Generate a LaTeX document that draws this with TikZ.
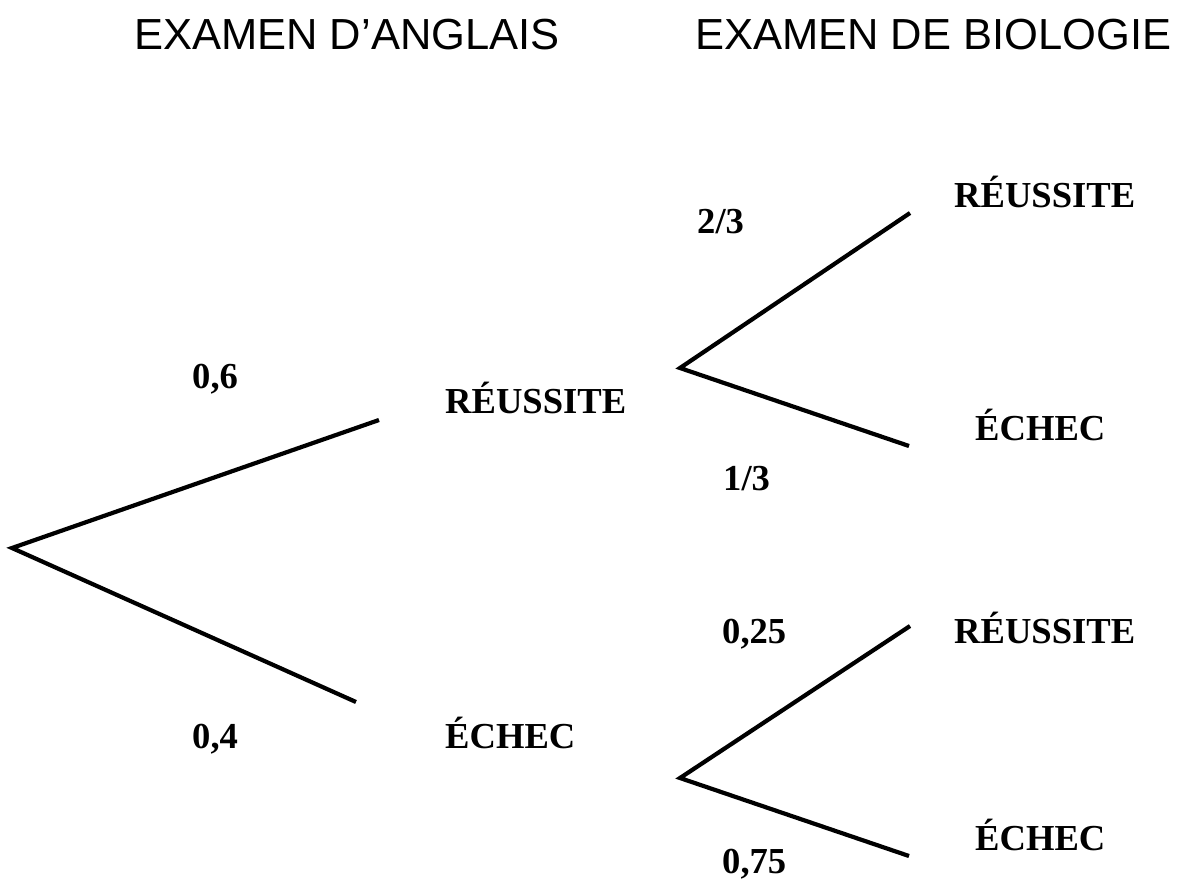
\documentclass[tikz,border=0pt]{standalone}
\usepackage{fontspec}
\setmainfont{Liberation Serif}
\newfontfamily\headfont{Liberation Sans}
\begin{document}
\begin{tikzpicture}[x=1pt,y=-1pt,
  branch/.style={line width=4.2pt,line cap=butt,line join=miter},
  lbl/.style={anchor=base west,inner sep=0pt,font=\fontsize{36.6}{40}\selectfont\bfseries},
  head/.style={anchor=base west,inner sep=0pt,font=\headfont\fontsize{43.5}{48}\selectfont}]
\useasboundingbox (0,0) rectangle (1191,880);
% headers
\node[head] (hA) at (134,50) {EXAMEN D’ANGLAIS};
\node[head] (hB) at (695,50) {EXAMEN DE BIOLOGIE};
% tree points
\coordinate (root) at (12,548);
\coordinate (aR) at (379,420);
\coordinate (aE) at (356,702);
\coordinate (nR) at (680,368);
\coordinate (nE) at (680,778);
\coordinate (rR) at (910,213);
\coordinate (rE) at (909,446);
\coordinate (eR) at (910,626);
\coordinate (eE) at (909,856);
% branches
\draw[branch] (aR) -- (root) -- (aE);
\draw[branch] (rR) -- (nR) -- (rE);
\draw[branch] (eR) -- (nE) -- (eE);
% labels
\node[lbl] (p06) at (192,388) {0,6};
\node[lbl] (p04) at (192,748) {0,4};
\node[lbl] (tR) at (445,413) {RÉUSSITE};
\node[lbl] (tE) at (445,748) {ÉCHEC};
\node[lbl] (p23) at (697,233) {2/3};
\node[lbl] (p13) at (723,490) {1/3};
\node[lbl] (p025) at (722,643) {0,25};
\node[lbl] (p075) at (722,873) {0,75};
\node[lbl] (uR) at (954,207) {RÉUSSITE};
\node[lbl] (uE) at (975,440) {ÉCHEC};
\node[lbl] (vR) at (954,643) {RÉUSSITE};
\node[lbl] (vE) at (975,850) {ÉCHEC};
\end{tikzpicture}
\end{document}
